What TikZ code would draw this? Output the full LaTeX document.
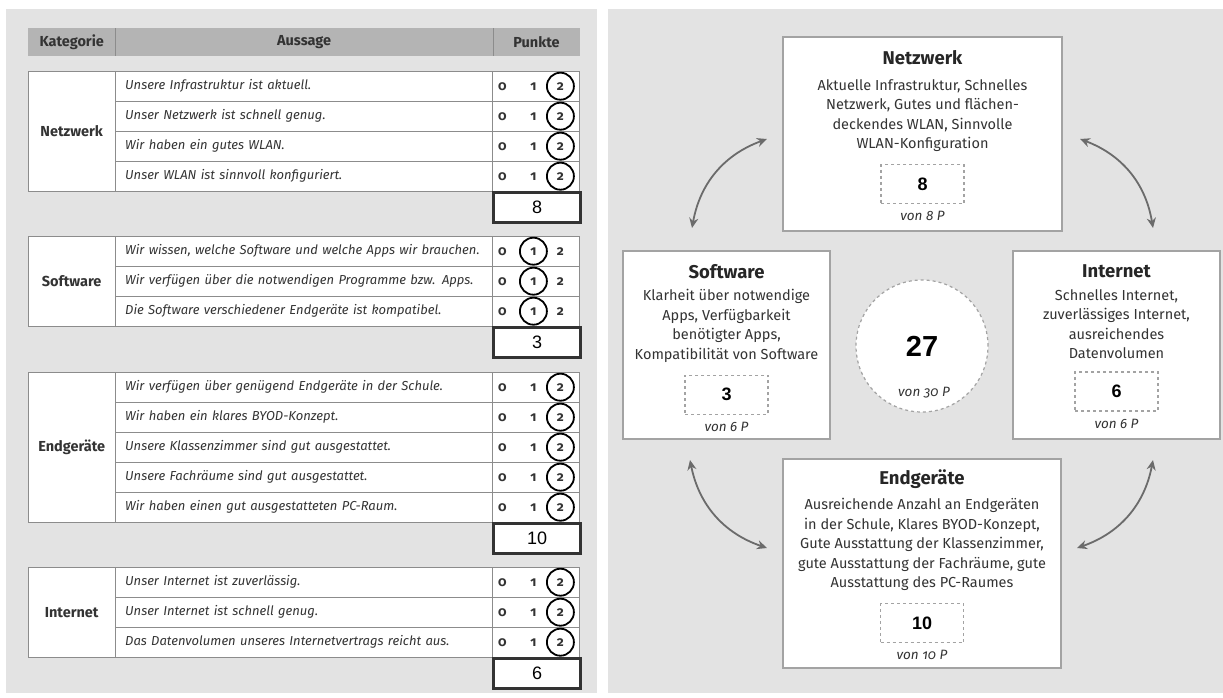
\documentclass[tikz,border=0pt]{standalone}
\usepackage{fontspec}
\setmainfont{Fira Sans}
\newfontfamily\oldfig[Numbers=OldStyle]{Fira Sans}
\newfontfamily\arial{Liberation Sans}
\usetikzlibrary{positioning,arrows.meta}

\definecolor{panelgrey}{HTML}{E3E3E3}
\definecolor{headgrey}{HTML}{B4B4B4}
\definecolor{rulegrey}{HTML}{8C8C8C}
\definecolor{boxgrey}{HTML}{A3A3A3}
\definecolor{inkgrey}{HTML}{333333}
\definecolor{arrowgrey}{HTML}{6B6B6B}

\tikzset{
  headcell/.style={anchor=north west, fill=headgrey, minimum height=28pt, inner sep=0pt, text=inkgrey, font=\bfseries\fontsize{14.5}{16}\selectfont},
  katcell/.style={anchor=north west, draw=rulegrey, fill=white, minimum width=87pt, inner sep=0pt, text=inkgrey, font=\bfseries\fontsize{14.5}{16}\selectfont},
  stmtcell/.style={anchor=north west, draw=rulegrey, fill=white, minimum height=30pt, text width=357pt, inner xsep=10pt, inner ysep=0pt, align=left, text=inkgrey, font=\itshape\fontsize{13}{15}\selectfont},
  ptcell/.style={anchor=north west, draw=rulegrey, fill=white, minimum width=87pt, minimum height=30pt, inner sep=0pt},
  digit/.style={inner sep=0pt, text=inkgrey, font=\oldfig\bfseries\fontsize{13.5}{15}\selectfont},
  ring/.style={circle, draw=black, line width=1.8pt, minimum size=27pt, inner sep=0pt},
  sumcell/.style={anchor=north west, draw=inkgrey, line width=2.4pt, fill=white, minimum width=87pt, minimum height=30pt, inner sep=0pt, font=\arial\fontsize{18}{20}\selectfont},
  infobox/.style={draw=boxgrey, line width=1.2pt, fill=white, inner sep=0pt},
  boxtitle/.style={inner sep=0pt, text=black!85, font=\bfseries\fontsize{18.5}{20}\selectfont},
  boxbody/.style={anchor=north, inner sep=0pt, align=center, text=inkgrey, font=\fontsize{14.5}{19.5}\selectfont},
  scorebox/.style={draw=boxgrey, dashed, line width=1.2pt, minimum width=83pt, minimum height=39pt, inner sep=0pt, font=\arial\bfseries\fontsize{18}{20}\selectfont},
  vonlabel/.style={inner sep=0pt, text=inkgrey, font=\oldfig\itshape\fontsize{13.5}{15}\selectfont},
  totalring/.style={circle, draw=boxgrey, dashed, line width=1.2pt, fill=white, minimum size=132pt, inner sep=0pt},
  bignum/.style={inner sep=0pt, font=\arial\bfseries\fontsize{29}{31}\selectfont},
  twoway/.style={{Stealth[length=10pt,width=9pt]}-{Stealth[length=10pt,width=9pt]}, draw=arrowgrey, line width=1.8pt, bend left=30},
}

\begin{document}
\begin{tikzpicture}[x=1pt, y=-1pt]
    \useasboundingbox[fill=white] (0,0) rectangle (1223,697);
    \fill[panelgrey] (6,9) rectangle (597,693);
    \fill[panelgrey] (608,9) rectangle (1223,693);

    % table head
    \node[headcell, minimum width=87pt] (hkat) at (28,28) {Kategorie};
    \node[headcell, minimum width=377pt] (haus) at (hkat.north east) {Aussage};
    \node[headcell, minimum width=87pt] (hpkt) at (haus.north east) {Punkte};
    \draw[rulegrey] (hkat.north east) -- (hkat.south east)
    (haus.north east) -- (haus.south east);

    % Netzwerk
    \node[katcell, minimum height=120pt] (kat1) at (28,71) {Netzwerk};
    \foreach \s [count=\i from 0] in {Unsere Infrastruktur ist aktuell., Unser Netzwerk ist schnell genug., Wir haben ein gutes WLAN., Unser WLAN ist sinnvoll konfiguriert.} {
      \node[stmtcell] (s1-\i) at (115,71+30*\i) {\mbox{\s}};
      \node[ptcell] (p1-\i) at (s1-\i.north east) {};
      \node[digit] (p1-\i-0) at ([xshift=10pt]p1-\i.west) {0};
      \node[digit] (p1-\i-1) at ([xshift=41pt]p1-\i.west) {1};
      \node[digit] (p1-\i-2) at ([xshift=68pt]p1-\i.west) {2};
      \node[ring] (r1-\i) at (p1-\i-2) {};
    }
    \node[sumcell] (sum1) at (p1-3.south west) {8};

    % Software
    \node[katcell, minimum height=90pt] (kat2) at (28,236) {Software};
    \foreach \s [count=\i from 0] in {{Wir wissen, welche Software und welche Apps wir brauchen.}, Wir verfügen über die notwendigen Programme bzw. Apps., Die Software verschiedener Endgeräte ist kompatibel.} {
      \node[stmtcell] (s2-\i) at (115,236+30*\i) {\mbox{\s}};
      \node[ptcell] (p2-\i) at (s2-\i.north east) {};
      \node[digit] (p2-\i-0) at ([xshift=10pt]p2-\i.west) {0};
      \node[digit] (p2-\i-1) at ([xshift=41pt]p2-\i.west) {1};
      \node[digit] (p2-\i-2) at ([xshift=68pt]p2-\i.west) {2};
      \node[ring] (r2-\i) at (p2-\i-1) {};
    }
    \node[sumcell] (sum2) at (p2-2.south west) {3};

    % Endgeraete
    \node[katcell, minimum height=150pt] (kat3) at (28,372) {Endgeräte};
    \foreach \s [count=\i from 0] in {Wir verfügen über genügend Endgeräte in der Schule., Wir haben ein klares BYOD-Konzept., Unsere Klassenzimmer sind gut ausgestattet., Unsere Fachräume sind gut ausgestattet., Wir haben einen gut ausgestatteten PC-Raum.} {
      \node[stmtcell] (s3-\i) at (115,372+30*\i) {\mbox{\s}};
      \node[ptcell] (p3-\i) at (s3-\i.north east) {};
      \node[digit] (p3-\i-0) at ([xshift=10pt]p3-\i.west) {0};
      \node[digit] (p3-\i-1) at ([xshift=41pt]p3-\i.west) {1};
      \node[digit] (p3-\i-2) at ([xshift=68pt]p3-\i.west) {2};
      \node[ring] (r3-\i) at (p3-\i-2) {};
    }
    \node[sumcell] (sum3) at (p3-4.south west) {10};

    % Internet
    \node[katcell, minimum height=90pt] (kat4) at (28,567) {Internet};
    \foreach \s [count=\i from 0] in {Unser Internet ist zuverlässig., Unser Internet ist schnell genug., Das Datenvolumen unseres Internetvertrags reicht aus.} {
      \node[stmtcell] (s4-\i) at (115,567+30*\i) {\mbox{\s}};
      \node[ptcell] (p4-\i) at (s4-\i.north east) {};
      \node[digit] (p4-\i-0) at ([xshift=10pt]p4-\i.west) {0};
      \node[digit] (p4-\i-1) at ([xshift=41pt]p4-\i.west) {1};
      \node[digit] (p4-\i-2) at ([xshift=68pt]p4-\i.west) {2};
      \node[ring] (r4-\i) at (p4-\i-2) {};
    }
    \node[sumcell] (sum4) at (p4-2.south west) {6};

    % overview
    \node[infobox, minimum width=279pt, minimum height=194pt] (net) at (922.5,134) {};
    \node[boxtitle] (nettitle) at ([yshift=-21pt]net.north) {Netzwerk};
    \node[boxbody] (netbody) at ([yshift=-43pt]net.north) {Aktuelle Infrastruktur, Schnelles\\Netzwerk, Gutes und flächen-\\deckendes WLAN, Sinnvolle\\WLAN-Konfiguration};
    \node[scorebox, below=12pt of netbody] (netscore) {8};
    \node[vonlabel, below=7pt of netscore] (netvon) {von 8 P};

    \node[infobox, minimum width=207pt, minimum height=188pt] (soft) at (726.5,345) {};
    \node[boxtitle] (softtitle) at ([yshift=-21pt]soft.north) {Software};
    \node[boxbody] (softbody) at ([yshift=-39pt]soft.north) {Klarheit über notwendige\\Apps, Verfügbarkeit\\benötigter Apps,\\Kompatibilität von Software};
    \node[scorebox, below=12pt of softbody] (softscore) {3};
    \node[vonlabel, below=7pt of softscore] (softvon) {von 6 P};

    \node[infobox, minimum width=207pt, minimum height=188pt] (inet) at (1116.5,345) {};
    \node[boxtitle] (inettitle) at ([yshift=-21pt]inet.north) {Internet};
    \node[boxbody] (inetbody) at ([yshift=-39pt]inet.north) {Schnelles Internet,\\zuverlässiges Internet,\\ausreichendes\\Datenvolumen};
    \node[scorebox, below=12pt of inetbody] (inetscore) {6};
    \node[vonlabel, below=7pt of inetscore] (inetvon) {von 6 P};

    \node[infobox, minimum width=278pt, minimum height=209pt] (endg) at (922,563.5) {};
    \node[boxtitle] (endgtitle) at ([yshift=-21pt]endg.north) {Endgeräte};
    \node[boxbody] (endgbody) at ([yshift=-40pt]endg.north) {Ausreichende Anzahl an Endgeräten\\in der Schule, Klares BYOD-Konzept,\\Gute Ausstattung der Klassenzimmer,\\gute Ausstattung der Fachräume, gute\\Ausstattung des PC-Raumes};
    \node[scorebox, below=12pt of endgbody] (endgscore) {10};
    \node[vonlabel, below=7pt of endgscore] (endgvon) {von 10 P};

    \node[totalring] (total) at (922,346) {};
    \node[bignum] (totalnum) at (922,346) {27};
    \node[vonlabel] (totalvon) at (924,393) {von 30 P};

    % arrows
    \coordinate (tl-a) at (692,228);
    \coordinate (tl-b) at (767,139);
    \coordinate (tr-a) at (1080,139);
    \coordinate (tr-b) at (1153,228);
    \coordinate (br-a) at (1153,460);
    \coordinate (br-b) at (1077,548);
    \coordinate (bl-a) at (767,548);
    \coordinate (bl-b) at (690,460);
    \draw[twoway] (tl-a) to (tl-b);
    \draw[twoway] (tr-a) to (tr-b);
    \draw[twoway] (br-a) to (br-b);
    \draw[twoway] (bl-a) to (bl-b);
\end{tikzpicture}
\end{document}
